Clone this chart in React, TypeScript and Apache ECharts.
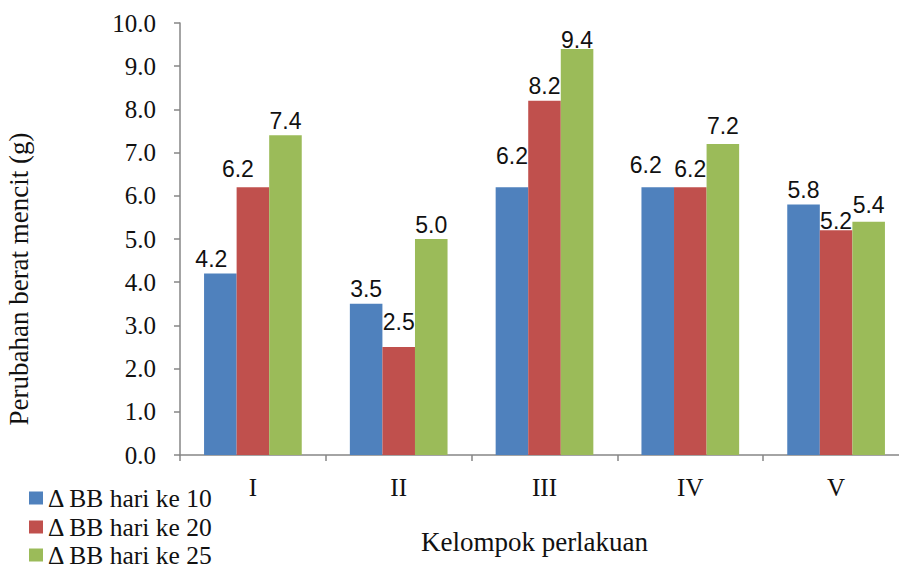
import React, { useEffect, useRef } from "react";
import * as echarts from "echarts";

const categories = ["I", "II", "III", "IV", "V"];
const seriesNames = ["\u0394 BB hari ke 10", "\u0394 BB hari ke 20", "\u0394 BB hari ke 25"];
const day10 = [4.2, 3.5, 6.2, 6.2, 5.8];
const day20 = [6.2, 2.5, 8.2, 6.2, 5.2];
const day25 = [7.4, 5.0, 9.4, 7.2, 5.4];
const colors = ["#4F81BD", "#C0504D", "#9BBB59"];

// small manual label nudges (dx, dy) as in the original figure
const labelNudges: number[][][] = [
  [[-9, 0], [0, 0], [0, -17], [-12, -8], [0, 0]],
  [[-15, -4], [0, -11], [0, 0], [0, -4], [0, 5]],
  [[0, 0], [0, 0], [0, 6], [0, -3], [0, -2]],
];

const serif = "'Liberation Serif', 'Times New Roman', serif";
const sans = "'Liberation Sans', Arial, sans-serif";
const axisGrey = "#868686";
const textColor = "#111111";
const legendTops = [485, 514, 542];

export default function App() {
  const ref = useRef<HTMLDivElement>(null);
  useEffect(() => {
    if (!ref.current) return;
    const chart = echarts.init(ref.current, null, { renderer: "svg" });
    const allValues = [day10, day20, day25];
    chart.setOption({
      animation: false,
      backgroundColor: "#ffffff",
      grid: { left: 180, top: 23, width: 729, height: 432, containLabel: false, outerBoundsMode: "none" },
      legend: seriesNames.map((n, s) => ({
        orient: "vertical",
        left: 29,
        top: legendTops[s],
        padding: 0,
        icon: "rect",
        itemWidth: 14,
        itemHeight: 13,
        itemGap: 6,
        textStyle: { fontFamily: serif, fontSize: 25.5, lineHeight: 25, color: textColor },
        data: [n],
      })),
      xAxis: {
        type: "category",
        data: categories,
        name: "Kelompok perlakuan",
        nameLocation: "middle",
        nameGap: 73,
        nameTextStyle: { fontFamily: serif, fontSize: 27, color: textColor, padding: [0, 20, 0, 0] },
        axisLine: { lineStyle: { color: axisGrey, width: 1.5 } },
        axisTick: { show: true, length: 6, lineStyle: { color: axisGrey, width: 1.5 } },
        axisLabel: { fontFamily: serif, fontSize: 25, color: textColor, margin: 20 },
      },
      yAxis: {
        type: "value",
        min: 0,
        max: 10,
        interval: 1,
        name: "Perubahan berat mencit (g)",
        nameLocation: "middle",
        nameGap: 148,
        nameTextStyle: { fontFamily: serif, fontSize: 27, color: textColor, padding: [0, 80, 0, 0] },
        axisLine: { show: true, lineStyle: { color: axisGrey, width: 1.5 } },
        axisTick: { show: true, length: 6, lineStyle: { color: axisGrey, width: 1.5 } },
        splitLine: { show: false },
        axisLabel: {
          fontFamily: serif,
          fontSize: 25,
          color: textColor,
          margin: 24,
          formatter: (v: number) => v.toFixed(1),
        },
      },
      series: allValues.map((vals, s) => ({
        name: seriesNames[s],
        type: "bar",
        barGap: "0%",
        barCategoryGap: "33%",
        itemStyle: { color: colors[s] },
        label: {
          show: true,
          position: "top",
          distance: 3,
          fontFamily: sans,
          fontSize: 23,
          color: textColor,
          formatter: (p: any) => Number(p.value).toFixed(1),
        },
        data: vals.map((v, i) => ({ value: v, label: { offset: labelNudges[s][i] } })),
      })),
    });
    return () => chart.dispose();
  }, []);
  return (
    <div
      ref={ref}
      style={{ position: "absolute", left: 0, top: 0, width: 899, height: 569 }}
    />
  );
}
